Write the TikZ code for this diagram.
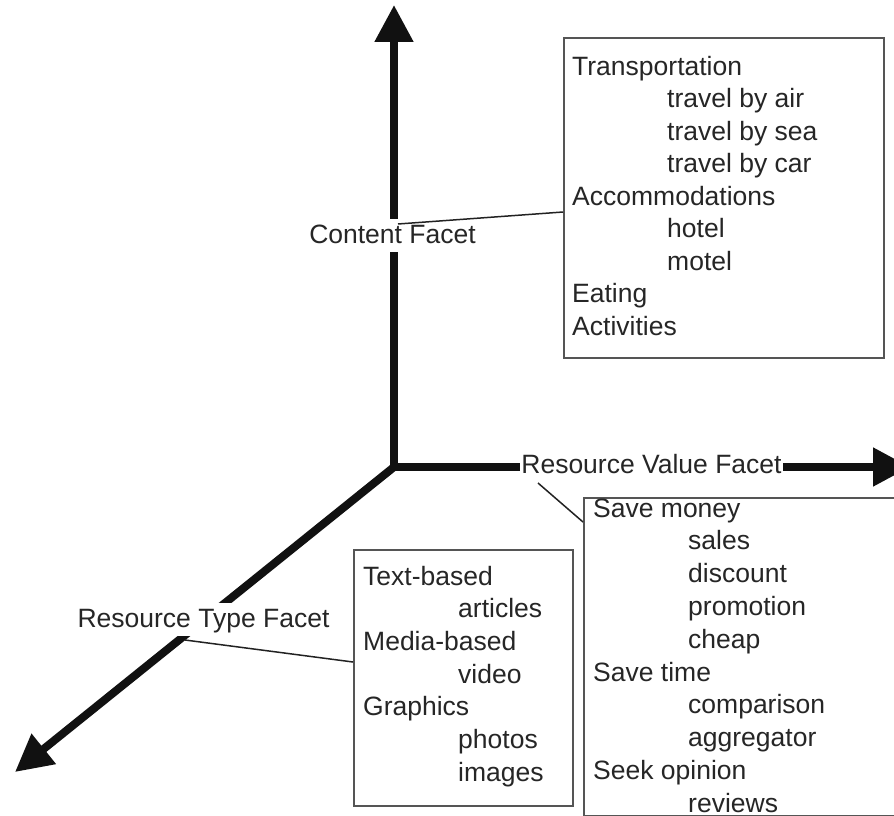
\documentclass[tikz,border=0pt]{standalone}
\usepackage{fontspec}
\setmainfont{Liberation Sans}
\usetikzlibrary{arrows.meta}
\definecolor{axisc}{HTML}{111111}
\definecolor{textc}{HTML}{262626}
\definecolor{boxc}{HTML}{555555}
\definecolor{connc}{HTML}{222222}
\begin{document}
\begin{tikzpicture}[x=1pt,y=-1pt,
  axis/.style={line width=8pt, draw=axisc, line join=miter},
  headtip/.style={},
  lab/.style={fill=white, text=textc, inner xsep=1pt, inner ysep=3pt,
    text height=21pt, text depth=6pt, anchor=base,
    font=\fontsize{26.5}{32}\selectfont},
  item/.style={text=textc, inner sep=0pt, anchor=base west,
    font=\fontsize{26.5}{32}\selectfont},
  box/.style={draw=boxc, line width=2pt, inner sep=0pt, anchor=north west},
  conn/.style={draw=connc, line width=1.5pt}
]
\useasboundingbox (0,0) rectangle (894,816);
\clip (0,0) rectangle (894,816);
\fill[white] (0,0) rectangle (894,816);

% axes
\coordinate (o) at (394,467);
\coordinate (ytip) at (394,5);
\coordinate (xtip) at (910,467);
\coordinate (ztip) at (15,772);
\draw[axis, {Triangle[length=37pt,width=37pt]}-{Triangle[length=37pt,width=37pt]}]
  (ytip) -- (o) -- (xtip);
\draw[axis, -{Triangle[length=37pt,width=37pt]}] (o) -- (ztip);

% axis labels
\node[lab] (cf) at (392.5,243) {Content Facet};
\node[lab] (vf) at (651.5,473) {Resource Value Facet};
\node[lab] (tf) at (203.5,627) {Resource Type Facet};

% boxes
\node[box, minimum width=320pt, minimum height=320pt] (cbox) at (563,37) {};
\node[box, minimum width=322pt, minimum height=318pt] (vbox) at (583,497) {};
\node[box, minimum width=218.5pt, minimum height=256pt] (tbox) at (353,549) {};

% connectors
\coordinate (cend) at (398,224);
\coordinate (vend) at (538,483);
\coordinate (tend) at (185,640);
\draw[conn] ([yshift=-175pt]cbox.north west) -- (cend);
\draw[conn] ([yshift=-25pt]vbox.north west) -- (vend);
\draw[conn] ([yshift=-113pt]tbox.north west) -- (tend);

% content box text
\foreach \t/\ind [count=\i from 0] in {Transportation/0, travel by air/1,
  travel by sea/1, travel by car/1, Accommodations/0, hotel/1, motel/1,
  Eating/0, Activities/0}
  \node[item] (c\i) at ({572+95*\ind},{75+32.5*\i}) {\t};

% value box text
\foreach \t/\ind [count=\i from 0] in {Save money/0, sales/1, discount/1,
  promotion/1, cheap/1, Save time/0, comparison/1, aggregator/1,
  Seek opinion/0, reviews/1}
  \node[item] (v\i) at ({593+95*\ind},{517+32.8*\i}) {\t};

% type box text
\foreach \t/\ind [count=\i from 0] in {Text-based/0, articles/1,
  Media-based/0, video/1, Graphics/0, photos/1, images/1}
  \node[item] (t\i) at ({363+95*\ind},{585+32.7*\i}) {\t};
\end{tikzpicture}
\end{document}
